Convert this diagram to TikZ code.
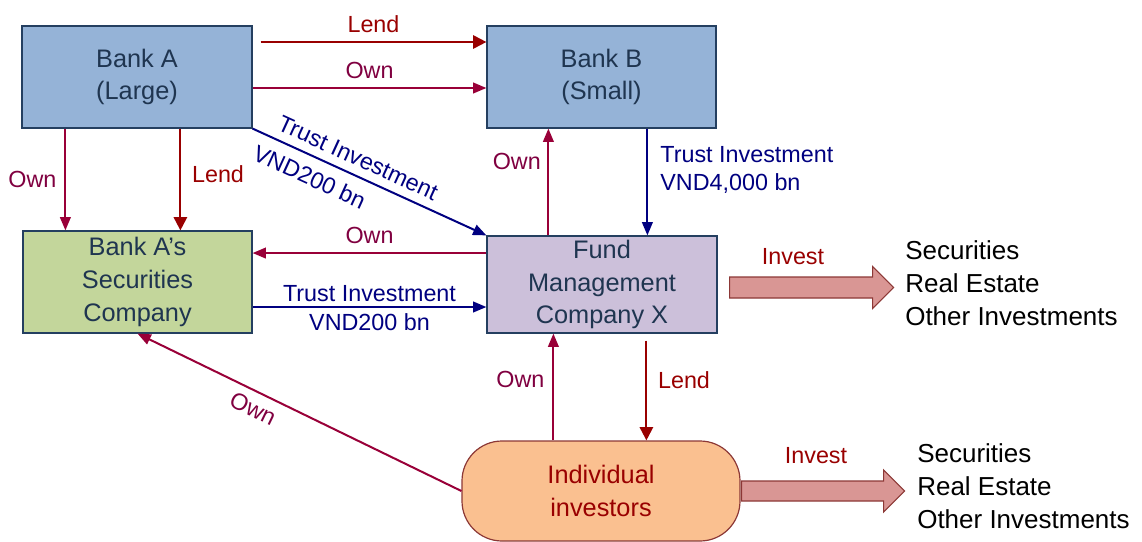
\documentclass[tikz,border=0pt]{standalone}
\usepackage{fontspec}
\setmainfont{Liberation Sans}
\usetikzlibrary{arrows.meta}

\definecolor{bankblue}{HTML}{95B3D7}
\definecolor{secgreen}{HTML}{C3D69B}
\definecolor{fundlilac}{HTML}{CCC0DA}
\definecolor{investorpeach}{HTML}{FAC090}
\definecolor{boxline}{HTML}{243F60}
\definecolor{boxtext}{HTML}{1F3550}
\definecolor{lendred}{HTML}{990000}
\definecolor{ownred}{HTML}{990038}
\definecolor{owntext}{HTML}{800040}
\definecolor{trustblue}{HTML}{000080}
\definecolor{investpink}{HTML}{D99694}
\definecolor{investline}{HTML}{8C3836}

\begin{document}
\begin{tikzpicture}[x=0.75pt,y=-0.75pt]%
\tikzstyle{bankbox} = [draw=boxline, line width=0.9pt, rectangle, inner sep=0pt,
    text=boxtext, align=center, font=\fontsize{19}{24.6}\selectfont]
\tikzstyle{lendarrow} = [draw=lendred, line width=1.5pt, -{Triangle[length=10pt,width=10pt]}]
\tikzstyle{ownarrow} = [draw=ownred, line width=1.5pt, -{Triangle[length=10pt,width=8pt]}]
\tikzstyle{trustarrow} = [draw=trustblue, line width=1.5pt, -{Triangle[length=10pt,width=8pt]}]
\tikzstyle{lbl} = [font=\fontsize{17.5}{21}\selectfont, inner sep=1pt, align=left]
\tikzstyle{fatarrow} = [draw=investline, fill=investpink, line width=0.9pt]
\tikzstyle{targets} = [anchor=west, align=left, inner sep=0pt, font=\fontsize{19.5}{24.6}\selectfont]

\useasboundingbox (0,0) rectangle (1142,542);

\node[bankbox, fill=bankblue, minimum width=172.5pt, minimum height=76.5pt] (bankA) at (137,77) {Bank A\\(Large)};
\node[bankbox, fill=bankblue, minimum width=171.75pt, minimum height=76.5pt] (bankB) at (601.5,77) {Bank B\\(Small)};
\node[bankbox, fill=secgreen, minimum width=171.75pt, minimum height=76.5pt] (seccomp) at (137.5,282) {Bank A’s\\Securities\\Company};
\node[bankbox, fill=fundlilac, minimum width=172.5pt, minimum height=72.75pt] (fundX) at (602,284.5) {Fund\\Management\\Company X};
\node[bankbox, draw=investline, fill=investorpeach, text=lendred, rounded corners=30pt,
    minimum width=208.5pt, minimum height=75pt] (investors) at (601,491) {Individual\\investors};

\draw[lendarrow] ([xshift=6pt,yshift=26.25pt]bankA.east) coordinate (l1) -- (l1 -| bankB.west)
    node[lbl, midway, above=5pt, text=lendred] {Lend};
\draw[ownarrow] ([yshift=-8.25pt]bankA.east) coordinate (o1) -- (o1 -| bankB.west)
    node[lbl, midway, above=5pt, text=owntext] {Own};
\draw[trustarrow] (bankA.south east) -- (fundX.north west)
    node[lbl, pos=0.42, sloped, above=5pt, text=trustblue] {Trust Investment}
    node[lbl, pos=0.28, sloped, below=7pt, text=trustblue] {VND200 bn};
\draw[ownarrow] ([xshift=33pt]bankA.south west) coordinate (o2) -- (o2 |- seccomp.north)
    node[lbl, midway, left=5pt, text=owntext] {Own};
\draw[lendarrow] ([xshift=119.25pt]bankA.south west) coordinate (l2) -- (l2 |- seccomp.north)
    node[lbl, pos=0.45, right=7pt, text=lendred] {Lend};
\draw[ownarrow] ([xshift=46.5pt]fundX.north west) coordinate (o3) -- (o3 |- bankB.south)
    node[lbl, pos=0.69, left=4pt, text=owntext] {Own};
\draw[trustarrow] ([xshift=120.75pt]bankB.south west) coordinate (t1) -- (t1 |- fundX.north)
    node[lbl, pos=0.39, right=8pt, text=trustblue] {Trust Investment\\VND4,000 bn};
\draw[ownarrow] ([yshift=23.6pt]fundX.west) coordinate (o4) -- (o4 -| seccomp.east)
    node[lbl, midway, above=5pt, text=owntext] {Own};
\draw[trustarrow] ([yshift=-18.75pt]seccomp.east) coordinate (t2) -- (t2 -| fundX.west)
    node[lbl, midway, above=2pt, text=trustblue] {Trust Investment}
    node[lbl, midway, below=3pt, text=trustblue] {VND200 bn};
\draw[ownarrow] ([xshift=69pt]investors.north west) coordinate (o5) -- (o5 |- fundX.south)
    node[lbl, pos=0.57, left=5pt, text=owntext] {Own};
\draw[lendarrow] ([xshift=120pt,yshift=-5.25pt]fundX.south west) coordinate (l3) -- (l3 |- investors.north)
    node[lbl, pos=0.4, right=7pt, text=lendred] {Lend};
\draw[ownarrow] (investors.west) -- (seccomp.south)
    node[lbl, pos=0.62, sloped, below=5pt, text=owntext] {Own};

\draw[fatarrow] ([xshift=9pt,yshift=-2.25pt]fundX.east) ++(0,-10.5) -- ++(143,0) -- ++(0,-10.5)
    -- ++(21,21) -- ++(-21,21) -- ++(0,-10.5) -- ++(-143,0) -- cycle;
\node[lbl, text=lendred] (investtop) at (793,257) {Invest};
\node[targets] (targetstop) at (905,283) {Securities\\Real Estate\\Other Investments};

\draw[fatarrow] ([xshift=0.75pt]investors.east) ++(0,-10) -- ++(142,0) -- ++(0,-11)
    -- ++(21,21) -- ++(-21,21) -- ++(0,-11) -- ++(-142,0) -- cycle;
\node[lbl, text=lendred] (investbottom) at (816,456) {Invest};
\node[targets] (targetsbottom) at (917,486) {Securities\\Real Estate\\Other Investments};
\end{tikzpicture}
\end{document}
